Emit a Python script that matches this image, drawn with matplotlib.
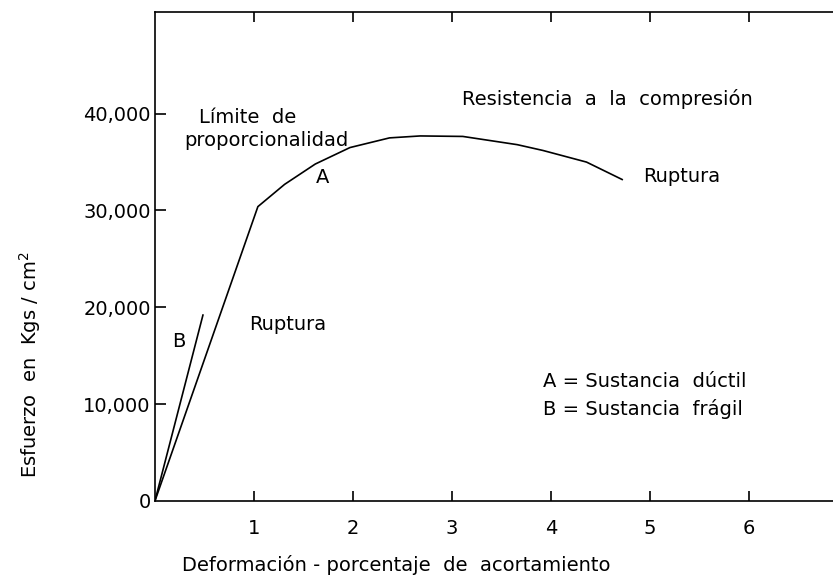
import matplotlib
matplotlib.use("Agg")
import matplotlib.pyplot as plt

# Data
a_strain = [0.0, 1.04, 1.31, 1.62, 1.97, 2.37, 2.68, 3.11, 3.66, 3.92, 4.36, 4.72]
a_stress = [0, 30400, 32700, 34800, 36500, 37500, 37700, 37650, 36800, 36200, 35000, 33200]
b_strain = [0.0, 0.485]
b_stress = [0, 19200]

x_ticks = [1, 2, 3, 4, 5, 6]
y_ticks = [0, 10000, 20000, 30000, 40000]
y_ticklabels = ["0", "10,000", "20,000", "30,000", "40,000"]

plt.rcParams['font.family'] = ['DejaVu Sans']
FS = 14

fig = plt.figure(figsize=(8.33, 5.83), dpi=100)
ax = fig.add_axes([0.186, 0.1407, 0.814, 0.8387])

ax.plot(a_strain, a_stress, color='black', lw=1.2)
ax.plot(b_strain, b_stress, color='black', lw=1.2)

ax.set_xlim(0, 6.85)
ax.set_ylim(0, 50500)

ax.spines['right'].set_visible(False)
for s in ['left', 'top', 'bottom']:
    ax.spines[s].set_linewidth(1.2)

ax.set_xticks(x_ticks)
ax.set_xticklabels([str(t) for t in x_ticks])
ax.set_yticks(y_ticks)
ax.set_yticklabels(y_ticklabels)
ax.tick_params(axis='x', direction='in', top=True, length=7, width=1.2, pad=13, labelsize=FS)
ax.tick_params(axis='y', direction='in', length=8, width=1.2, pad=3, labelsize=FS)
yt = ax.yaxis.get_major_ticks()
yt[0].tick1line.set_visible(False)

fig.text(396 / 833, 1 - 565 / 583, "Deformación - porcentaje  de  acortamiento",
         fontsize=FS, ha='center', va='center')
fig.text(30 / 833, 1 - 365 / 583, "Esfuerzo  en  Kgs / cm$^2$",
         fontsize=FS, ha='center', va='center', rotation=90)

ax.text(0.45, 39650, "Límite  de", fontsize=FS, ha='left', va='center')
ax.text(0.30, 37180, "proporcionalidad", fontsize=FS, ha='left', va='center')
ax.text(1.69, 33360, "A", fontsize=FS, ha='center', va='center')
ax.text(3.10, 41510, "Resistencia  a  la  compresión", fontsize=FS, ha='left', va='center')
ax.text(4.93, 33460, "Ruptura", fontsize=FS, ha='left', va='center')
ax.text(0.95, 18180, "Ruptura", fontsize=FS, ha='left', va='center')
ax.text(0.24, 16420, "B", fontsize=FS, ha='center', va='center')
ax.text(3.92, 12390, "A = Sustancia  dúctil", fontsize=FS, ha='left', va='center')
ax.text(3.92, 9500, "B = Sustancia  frágil", fontsize=FS, ha='left', va='center')

fig.savefig("out.png", dpi=100)
